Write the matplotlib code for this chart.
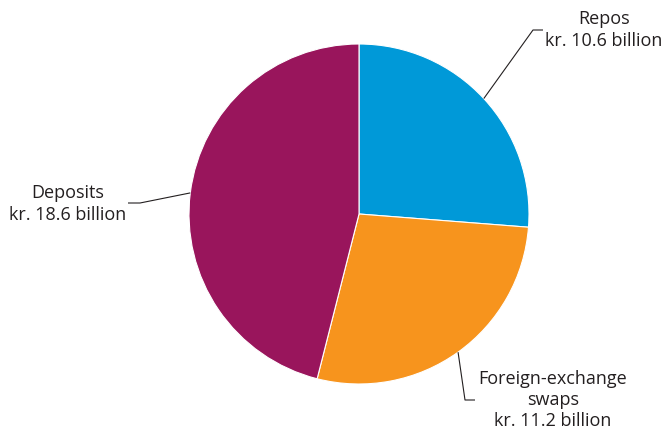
import numpy as np
import matplotlib
matplotlib.use("Agg")
import matplotlib.pyplot as plt

# Data (kr. billion)
labels = ["Repos", "Foreign-exchange\nswaps", "Deposits"]
values = [10.6, 11.2, 18.6]
colors = ["#0099d8", "#f7941d", "#99155c"]

W, H = 665, 432
fig = plt.figure(figsize=(W / 100, H / 100), dpi=100)
ax = fig.add_axes([0, 0, 1, 1])

cx, cy, r = 359, H - 214, 170
wedges, _ = ax.pie(values, colors=colors, startangle=90, counterclock=False,
                   center=(cx, cy), radius=r, frame=True,
                   wedgeprops=dict(edgecolor="white", linewidth=0.8))
ax.set_xlim(0, W)
ax.set_ylim(0, H)
ax.set_aspect("equal")
ax.axis("off")

# label layout: (elbow point, line end, text position) in pixels from top-left
layout = [
    ((533, 30), (543, 30), (604, 30)),
    ((465, 400), (475, 400), (553, 400)),
    ((140, 203), (128, 203), (68, 204)),
]

for w, lab, val, (elbow, end, tpos) in zip(wedges, labels, values, layout):
    mid = np.deg2rad((w.theta1 + w.theta2) / 2)
    sx, sy = cx + r * np.cos(mid), cy + r * np.sin(mid)
    ax.plot([sx, elbow[0], end[0]], [sy, H - elbow[1], H - end[1]],
            color="#231f20", linewidth=0.8, solid_capstyle="butt")
    ax.text(tpos[0], H - tpos[1], f"{lab}\nkr. {val:.1f} billion",
            ha="center", va="center", fontsize=13, family="Open Sans",
            color="#231f20", linespacing=1.25)

fig.savefig("out.png", dpi=100)
